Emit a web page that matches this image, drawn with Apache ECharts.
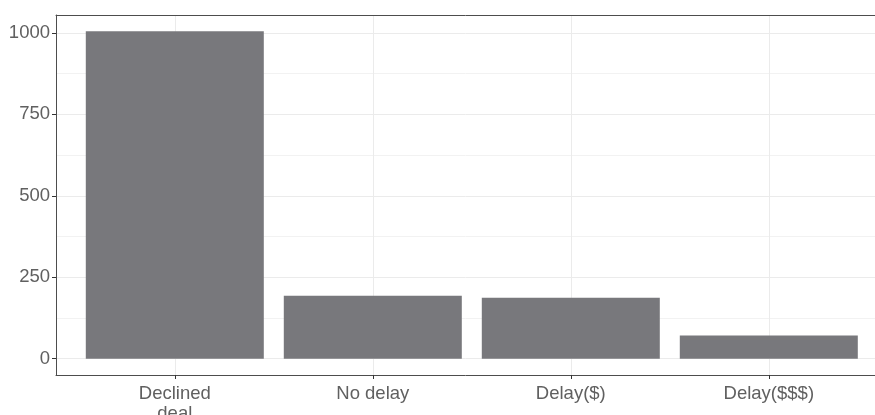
<!DOCTYPE html>
<html>
<head>
<meta charset="utf-8">
<script src="https://cdn.jsdelivr.net/npm/echarts@6/dist/echarts.min.js"></script>
<style>
  html, body { margin: 0; padding: 0; background: #fff; }
  #chart { width: 875px; height: 415px; }
</style>
</head>
<body>
<div id="chart"></div>
<script>
// data
const categories = ['Declined\ndeal', 'No delay', 'Delay($)', 'Delay($$$)']
const counts = [1005, 193, 187, 71]
const yTicks = [0, 250, 500, 750, 1000]
const yMinorTicks = [125, 375, 625, 875]

const catIdx = categories.map((c, i) => i)
const yMax = Math.max(...counts)
const pad = yMax * 0.05 // ggplot default expansion

// the ggplot panel runs past the right edge of the picture (band = 198px)
const bandPx = 198
const plotLeft = 56
const plotWidth = 875 - plotLeft
const xMin = -0.6
const xMax = xMin + plotWidth / bandPx

const labelFont = { fontFamily: 'Liberation Sans', fontSize: 18.5, color: '#606060' }
const gridColor = '#ebebeb'
const borderColor = '#4d4d4d'

const chart = echarts.init(document.getElementById('chart'), null, { renderer: 'canvas' })

chart.setOption({
  animation: false,
  backgroundColor: '#fff',
  grid: {
    left: plotLeft,
    top: 15,
    bottom: 40,
    right: 0,
    containLabel: false,
    outerBoundsMode: 'none'
  },
  xAxis: [{
    type: 'value',
    min: xMin,
    max: xMax,
    axisLine: { show: true, onZero: false, lineStyle: { color: borderColor } },
    axisTick: { customValues: catIdx, length: 4, lineStyle: { color: '#333' } },
    axisLabel: Object.assign({
      customValues: catIdx,
      margin: 9,
      lineHeight: 20,
      formatter: v => categories[v]
    }, labelFont),
    splitLine: { show: true, lineStyle: { color: gridColor, width: 1 } }
  }, {
    type: 'value',
    position: 'top',
    min: xMin,
    max: xMax,
    axisLine: { show: true, onZero: false, lineStyle: { color: borderColor } },
    axisTick: { show: false },
    axisLabel: { show: false },
    splitLine: { show: false }
  }],
  yAxis: [{
    type: 'value',
    min: -pad,
    max: yMax + pad,
    axisLine: { show: true, onZero: false, lineStyle: { color: borderColor } },
    axisTick: { show: true, customValues: yTicks, length: 4, lineStyle: { color: '#333' } },
    axisLabel: Object.assign({ customValues: yTicks, margin: 6, formatter: v => String(v) }, labelFont),
    splitLine: { show: true, lineStyle: { color: gridColor, width: 1 } }
  }, {
    type: 'value',
    min: -pad,
    max: yMax + pad,
    position: 'left',
    axisLine: { show: false, onZero: false },
    axisTick: { show: false, customValues: yMinorTicks },
    axisLabel: { show: false, customValues: yMinorTicks },
    splitLine: { show: true, lineStyle: { color: '#f2f2f2', width: 1 } }
  }],
  series: [{
    type: 'bar',
    yAxisIndex: 0,
    barWidth: 178,
    itemStyle: { color: '#78787c' },
    data: counts.map((v, i) => [i, v])
  }]
})
</script>
</body>
</html>
